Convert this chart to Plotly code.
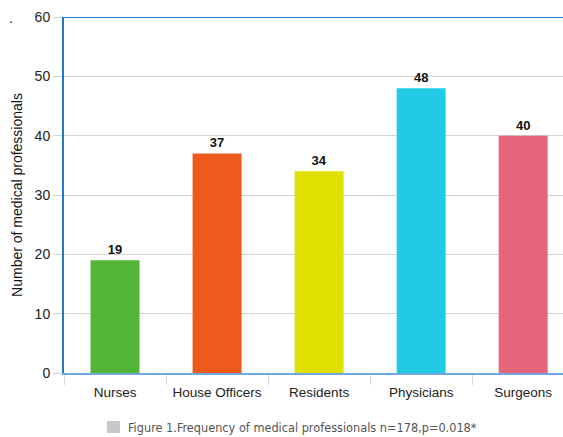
import plotly.graph_objects as go

categories = ["Nurses", "House Officers", "Residents", "Physicians", "Surgeons"]
counts = [19, 37, 34, 48, 40]
colors = ["#52b535", "#ee5a1c", "#dfe000", "#22cbe5", "#e5667a"]
y_ticks = [0, 10, 20, 30, 40, 50, 60]
caption = "Figure 1.Frequency of medical professionals n=178,p=0.018*"

fig = go.Figure(go.Bar(
    x=categories, y=counts, marker=dict(color=colors, line=dict(width=0)),
    width=0.48, text=[str(v) for v in counts], textposition="outside",
    textfont=dict(family="Liberation Sans", size=13, color="#111"),
    texttemplate="<b>%{text}</b>", cliponaxis=False,
))

fig.update_layout(
    width=563, height=437,
    margin=dict(l=64, r=0, t=17, b=64),
    plot_bgcolor="white", paper_bgcolor="white",
    showlegend=False, bargap=0.52,
    font=dict(family="Liberation Sans", size=13, color="#222"),
)
fig.update_xaxes(
    range=[-0.5, 4.39], tickson="boundaries", ticks="outside", ticklen=10,
    tickcolor="#d0d8e0", showgrid=False, showline=True, linecolor="#6fa8dc",
    linewidth=2, tickfont=dict(size=13.5, color="#222"), ticklabelstandoff=6,
)
fig.update_yaxes(
    range=[0, 60], tickvals=y_ticks, ticks="outside", ticklen=9,
    tickcolor="#c8d4e0", gridcolor="#d4d4d4", gridwidth=1,
    showline=True, linecolor="#1f78c8", linewidth=2, zeroline=False,
    tickfont=dict(size=14, color="#222"),
    title=dict(text="Number of medical professionals", font=dict(size=14, color="#111"), standoff=9),
)
# top border line
fig.add_shape(type="line", xref="paper", yref="y", x0=0, x1=1, y0=60, y1=60,
              line=dict(color="#1f78c8", width=2))
# caption legend square
fig.add_shape(type="rect", xref="paper", yref="paper",
              x0=(107 - 64) / 499, x1=(120 - 64) / 499,
              y0=-(433 - 373) / 356, y1=-(421 - 373) / 356,
              fillcolor="#c8c8c8", line=dict(width=0))
fig.add_annotation(text=caption, xref="paper", yref="paper",
                   x=(126 - 64) / 499, y=-(427 - 373) / 356,
                   xanchor="left", yanchor="middle", showarrow=False,
                   font=dict(family="DejaVu Sans Condensed", size=12.6, color="#555"))
fig.add_annotation(text=".", xref="paper", yref="paper",
                   x=-(64 - 11) / 499, y=(373 - 18) / 356,
                   xanchor="center", yanchor="middle", showarrow=False,
                   font=dict(size=14, color="#222"))

fig.write_html("out.html", config={"displayModeBar": False},
               post_script="document.body.style.margin='0';document.body.style.overflow='hidden';")
